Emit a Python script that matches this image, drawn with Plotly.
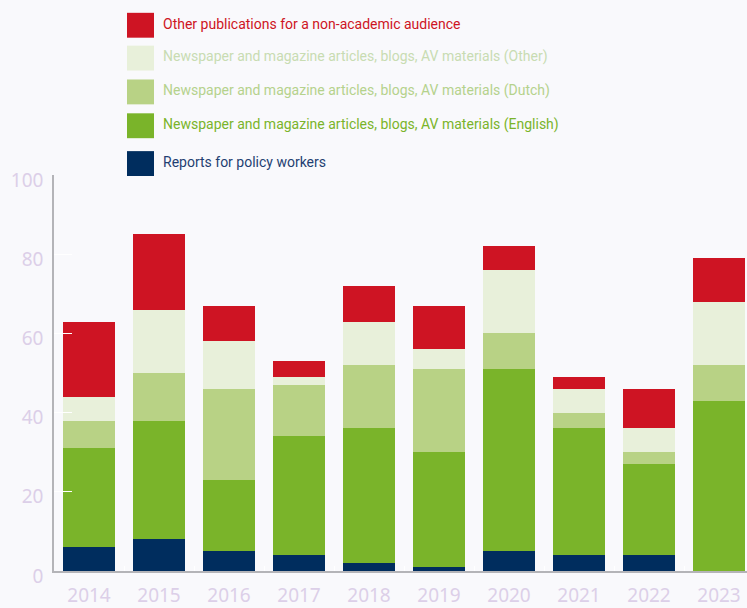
import plotly.graph_objects as go

years = ["2014", "2015", "2016", "2017", "2018", "2019", "2020", "2021", "2022", "2023"]
policy = [6, 8, 5, 4, 2, 1, 5, 4, 4, 0]
english = [25, 30, 18, 30, 34, 29, 46, 32, 23, 43]
dutch = [7, 12, 23, 13, 16, 21, 9, 4, 3, 9]
other = [6, 16, 12, 2, 11, 5, 16, 6, 6, 16]
nonacademic = [19, 19, 9, 4, 9, 11, 6, 3, 10, 11]

names = [
    "Reports for policy workers",
    "Newspaper and magazine articles, blogs, AV materials (English)",
    "Newspaper and magazine articles, blogs, AV materials (Dutch)",
    "Newspaper and magazine articles, blogs, AV materials (Other)",
    "Other publications for a non-academic audience",
]
series = [policy, english, dutch, other, nonacademic]
colors = ["#002d5e", "#7ab42a", "#b8d285", "#e8f0da", "#ce1423"]
text_colors = ["#1f3f72", "#7ab42a", "#b5d28c", "#c8dcb2", "#ce1423"]

W, H = 747, 608
L, R, T, B = 54, 0, 175, 35

fig = go.Figure()
for name, vals, col in zip(names, series, colors):
    fig.add_trace(go.Bar(x=years, y=vals, name=name, marker=dict(color=col, line=dict(width=0)),
                         showlegend=False))

pw = W - L - R
ph = H - T - B
def px_x(p):
    return (p - L) / pw
def px_y(p):
    return (H - B - p) / ph

# custom legend (top to bottom)
row_centers = [24.5, 57.5, 91.5, 125.5, 163.5]
shapes = []
annotations = []
for i, idx in enumerate([4, 3, 2, 1, 0]):
    cy = row_centers[i]
    shapes.append(dict(type="rect", xref="paper", yref="paper",
                       x0=px_x(127), x1=px_x(154), y0=px_y(cy + 12.5), y1=px_y(cy - 12.5),
                       fillcolor=colors[idx], line=dict(width=0)))
    annotations.append(dict(xref="paper", yref="paper", x=px_x(161), y=px_y(cy - 1.5),
                            xanchor="left", yanchor="middle", showarrow=False,
                            text=names[idx],
                            font=dict(family="Roboto", size=14,
                                      color=text_colors[idx])))

fig.update_layout(
    width=W, height=H,
    margin=dict(l=L, r=R, t=T, b=B, pad=0),
    barmode="stack", bargap=0.27,
    paper_bgcolor="#f9f9fc", plot_bgcolor="#f9f9fc",
    shapes=shapes, annotations=annotations,
    xaxis=dict(type="category", range=[-0.5, 9.4], showgrid=False,
               showline=True, linecolor="#b4b4b8", linewidth=1.5,
               ticks="inside", tickson="boundaries", ticklen=5, tickcolor="#ffffff",
               tickfont=dict(family="Noto Sans", size=19, color="#dccfe8"),
               ticklabelstandoff=6),
    yaxis=dict(range=[0, 100], tickvals=[0, 20, 40, 60, 80, 100], showgrid=False,
               showline=True, linecolor="#b4b4b8", linewidth=1.5, zeroline=False,
               ticks="inside", ticklen=18, tickcolor="#ffffff", tickwidth=1,
               tickfont=dict(family="Noto Sans", size=19, color="#dccfe8"),
               ticklabelshift=5, ticklabelstandoff=5),
)

fig.write_html("out.html", config={"displayModeBar": False},
               post_script="document.body.style.margin='0px';document.body.style.overflow='hidden';")
